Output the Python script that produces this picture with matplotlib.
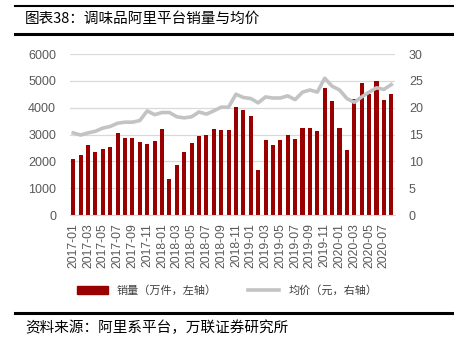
import matplotlib

matplotlib.use("Agg")
import matplotlib.pyplot as plt
from matplotlib.lines import Line2D
from matplotlib.patches import Patch

plt.rcParams["font.family"] = ["Liberation Sans", "Noto Sans CJK SC", "DejaVu Sans"]

months = [f"{y}-{m:02d}" for y in range(2017, 2021) for m in range(1, 13)][:44]

# 销量, 万件 (left axis)
volume = [2080, 2220, 2600, 2350, 2470, 2530, 3060, 2870, 2870, 2710, 2660,
          2760, 3190, 1350, 1850, 2360, 2670, 2940, 2980, 3220, 3170, 3170,
          4020, 3900, 3680, 1680, 2780, 2600, 2800, 2990, 2830, 3250, 3250,
          3120, 4720, 4260, 3240, 2420, 4340, 4920, 4500, 5010, 4270, 4500]

# 均价, 元 (right axis)
price = [15.3, 14.9, 15.3, 15.6, 16.2, 16.5, 17.1, 17.3, 17.3, 17.6, 19.4,
         18.7, 19.1, 19.1, 18.3, 18.1, 18.3, 19.2, 18.8, 19.4, 20.1, 20.1,
         22.5, 21.9, 21.7, 20.9, 22.0, 21.8, 21.8, 22.2, 21.5, 22.9, 23.3,
         22.9, 25.5, 24.0, 23.3, 21.7, 21.0, 22.0, 22.9, 23.7, 23.4, 24.3]

bar_color = "#990000"
line_color = "#c3c3c3"
text_color = "#595959"

fig = plt.figure(figsize=(4.54, 3.44), dpi=100)
ax = fig.add_axes([0.154, 0.375, 0.716, 0.468])
ax2 = ax.twinx()

x = list(range(len(months)))
ax.bar(x, volume, width=0.55, color=bar_color, zorder=2)
ax2.plot(x, price, color=line_color, linewidth=2.6, zorder=3)

ax.set_xlim(-0.45, 43.5)
ax.set_ylim(0, 6000)
ax.set_yticks(range(0, 6001, 1000))
ax2.set_ylim(0, 30)
ax2.set_yticks(range(0, 31, 5))
ax.yaxis.grid(True, color="#d9d9d9", linewidth=0.9, zorder=0)
ax.set_axisbelow(True)

ax.set_xticks(x[::2])
ax.set_xticklabels(months[::2], rotation=90, fontsize=8.8, color=text_color)
for a in (ax, ax2):
    a.tick_params(axis="y", length=0, labelsize=9, labelcolor=text_color, pad=10)
    for s in a.spines.values():
        s.set_visible(False)
ax.tick_params(axis="x", length=0, pad=6)
ax.spines["bottom"].set_visible(True)
ax.spines["bottom"].set_color("#d9d9d9")

handles = [Patch(color=bar_color), Line2D([0], [0], color=line_color, linewidth=2.6)]
fig.legend(handles, ["销量（万件，左轴）", "均价（元，右轴）"], loc="center",
           bbox_to_anchor=(0.5, 0.155), ncol=2, frameon=False, handlelength=2.8,
           handleheight=0.7, columnspacing=2.8,
           prop={"family": ["Noto Sans CJK SC"], "size": 8}, labelcolor="#404040")

# header and footer rules
fig.add_artist(Line2D([0.033, 1.0], [0.983, 0.983], color="black", linewidth=1.5))
fig.add_artist(Line2D([0.033, 1.0], [0.902, 0.902], color="black", linewidth=2.2))
fig.add_artist(Line2D([0.033, 1.0], [0.09, 0.09], color="black", linewidth=2.2))

fig.text(0.055, 0.945, "图表38：调味品阿里平台销量与均价", fontsize=10.5,
         family=["Noto Sans CJK SC"], va="center")
fig.text(0.055, 0.047, "资料来源：阿里系平台，万联证券研究所", fontsize=10.5,
         family=["Noto Sans CJK SC"], style="italic", va="center")

fig.savefig("out.png", dpi=100)
